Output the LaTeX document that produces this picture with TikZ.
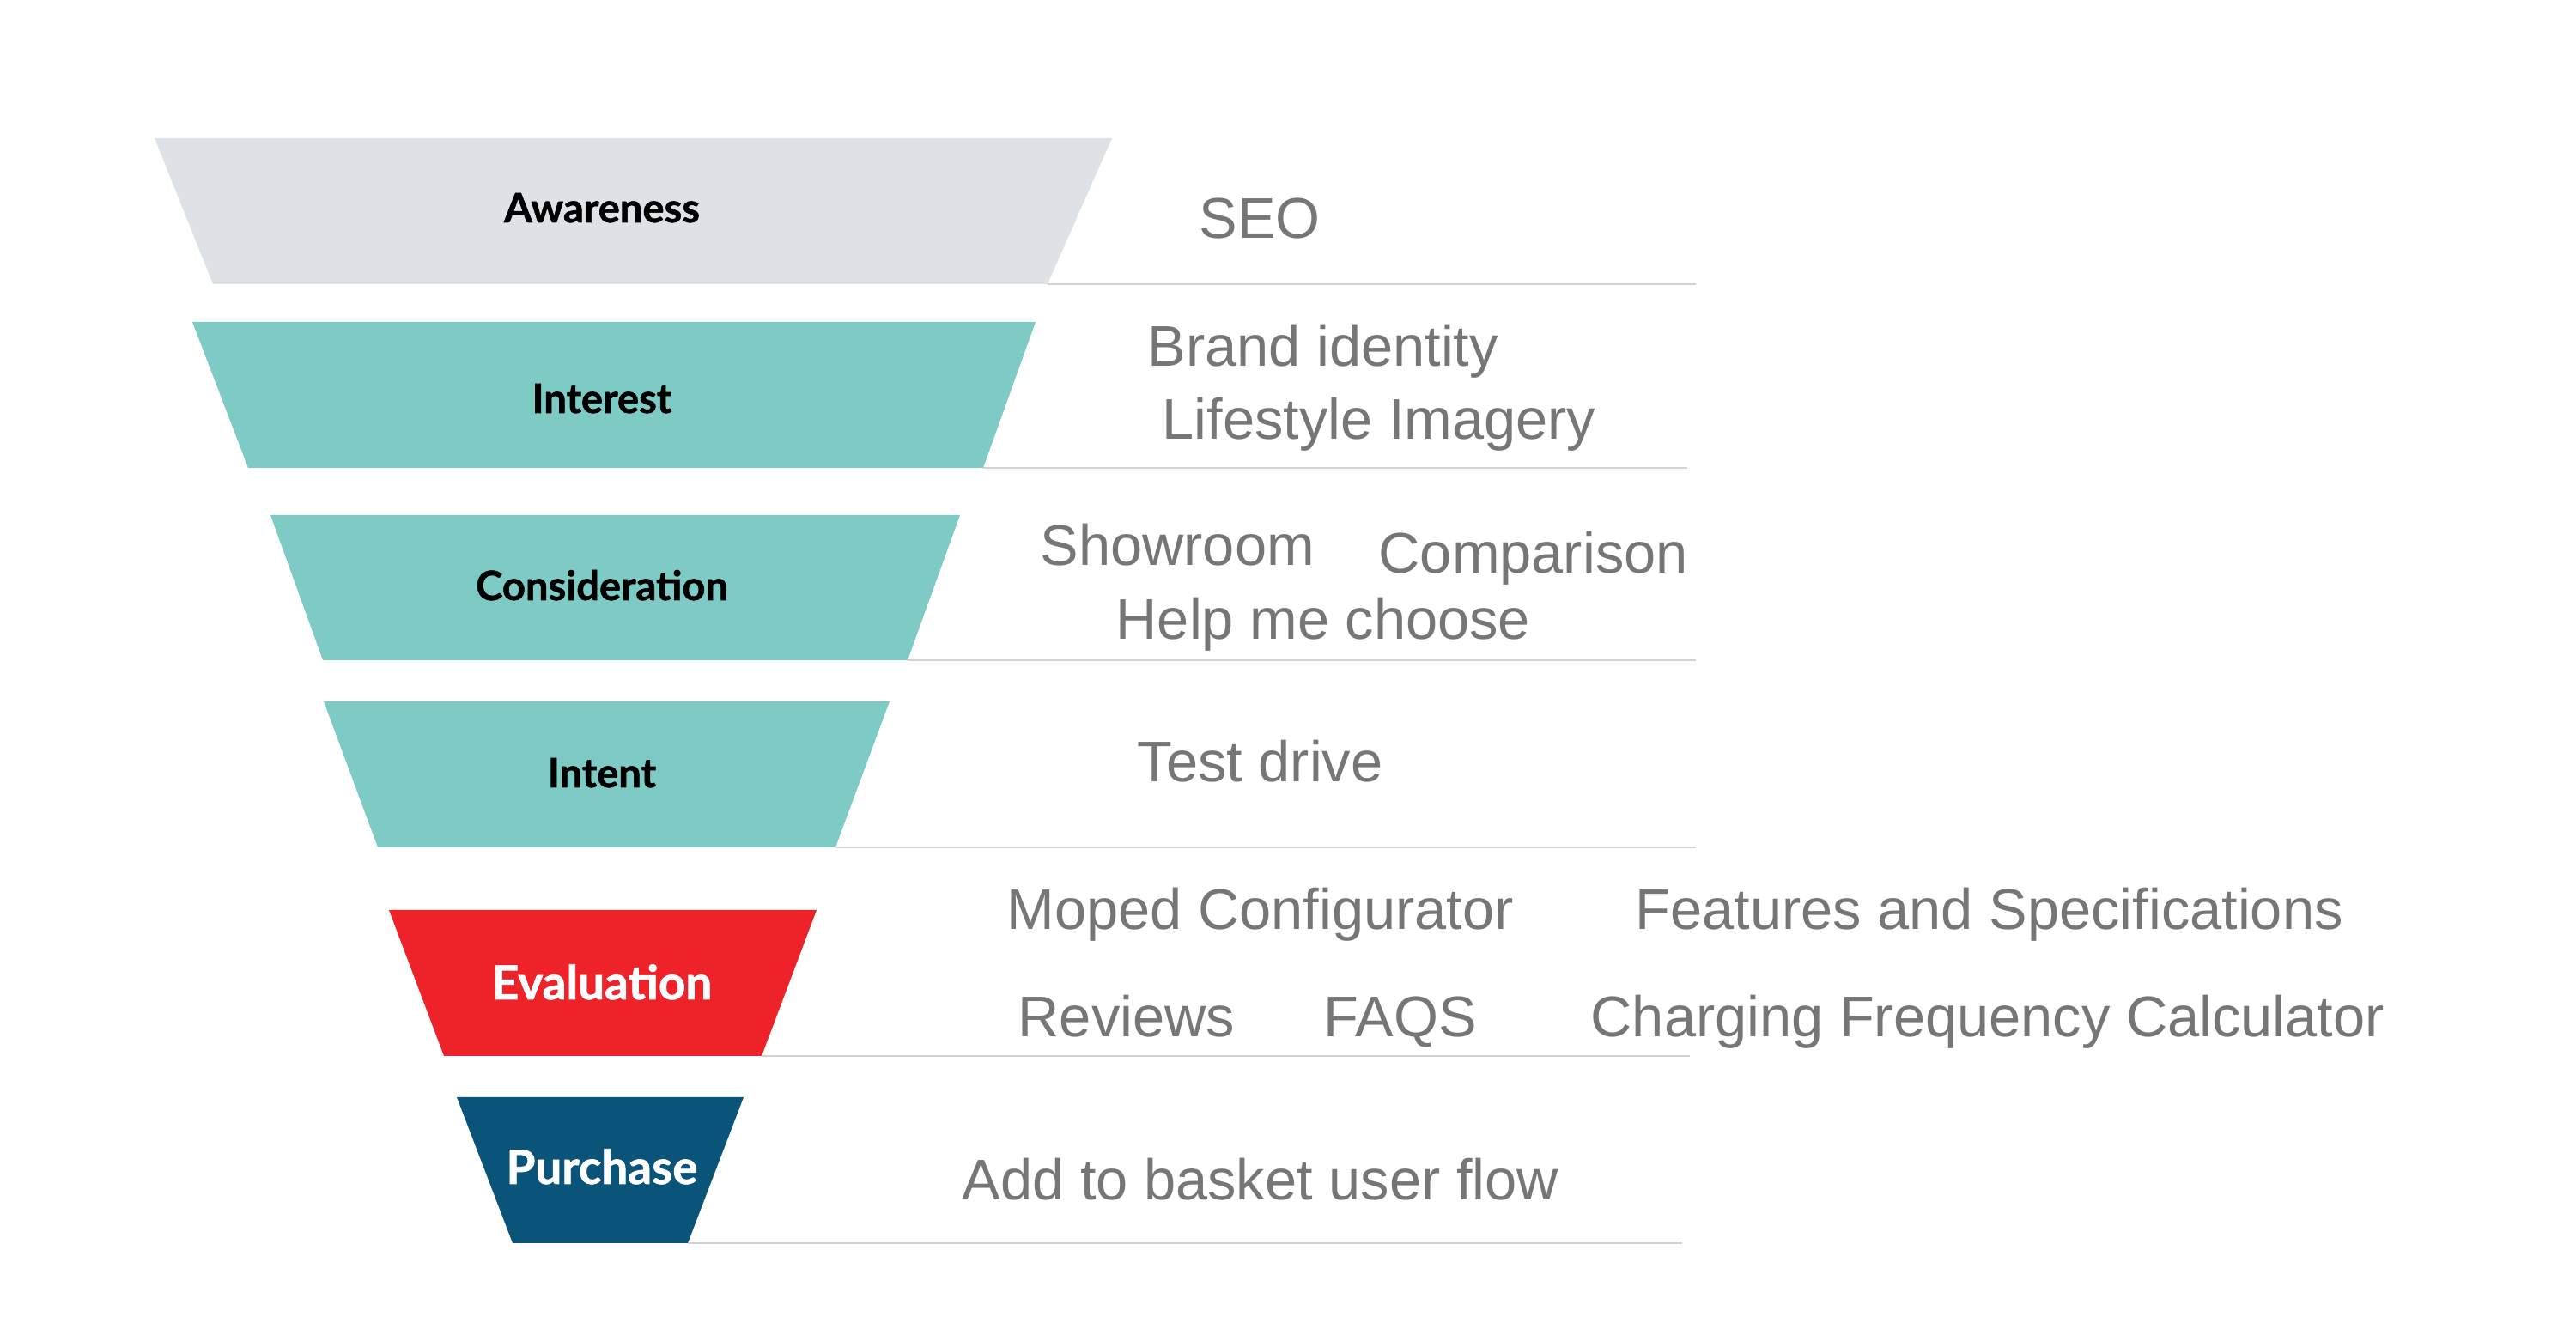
\documentclass[tikz,border=0pt]{standalone}
\usepackage{fontspec}
\setmainfont{Liberation Sans}
\newfontfamily\stagefont{Lato}[BoldFeatures={FakeBold=1.2}]
\definecolor{awaregrey}{HTML}{DFE2E4}
\definecolor{funnelteal}{HTML}{7ECBC5}
\definecolor{evalred}{HTML}{EE2229}
\definecolor{buynavy}{HTML}{0A5479}
\definecolor{itemgrey}{HTML}{767676}
\definecolor{rulegrey}{HTML}{D2D2D2}
\tikzset{
  stage/.style={inner sep=0pt, anchor=base, font=\stagefont\bfseries\fontsize{13.4}{15}\selectfont},
  bigstage/.style={stage, text=white, font=\stagefont\bfseries\fontsize{15.6}{18}\selectfont},
  item/.style={inner sep=0pt, anchor=base west, text=itemgrey, font=\fontsize{19}{22}\selectfont},
  divider/.style={draw=rulegrey, line width=0.8pt}
}
\begin{document}
\begin{tikzpicture}
  \useasboundingbox (0,0) rectangle (30,15.48);

  % Draw the funnel
  \fill[awaregrey]  (1.80,13.87) -- (12.95,13.87) -- (12.20,12.17) -- (2.48,12.17) -- cycle;
  \fill[funnelteal] (2.24,11.73) -- (12.06,11.73) -- (11.45,10.03) -- (2.89,10.03) -- cycle;
  \fill[funnelteal] (3.15,9.48) -- (11.18,9.48) -- (10.57,7.79) -- (3.76,7.79) -- cycle;
  \fill[funnelteal] (3.77,7.31) -- (10.36,7.31) -- (9.73,5.61) -- (4.40,5.61) -- cycle;
  \fill[evalred]    (4.53,4.88) -- (9.51,4.88) -- (8.87,3.18) -- (5.17,3.18) -- cycle;
  \fill[buynavy]    (5.32,2.70) -- (8.66,2.70) -- (8.01,1.00) -- (5.97,1.00) -- cycle;

  % Stage names
  \node[stage] (awareness) at (7.01,12.89) {Awareness};
  \node[stage] (interest) at (7.01,10.67) {Interest};
  \node[stage] (consideration) at (7.01,8.49) {Consideration};
  \node[stage] (intent) at (7.01,6.31) {Intent};
  \node[bigstage] (evaluation) at (7.01,3.84) {Evaluation};
  \node[bigstage] (purchase) at (7.01,1.69) {Purchase};

  % Draw the dividing lines
  \draw[divider] (12.20,12.17) -- (19.75,12.17);
  \draw[divider] (11.45,10.03) -- (19.65,10.03);
  \draw[divider] (10.57,7.79) -- (19.75,7.79);
  \draw[divider] (9.73,5.61) -- (19.75,5.61);
  \draw[divider] (8.87,3.18) -- (19.68,3.18);
  \draw[divider] (8.01,1.00) -- (19.59,1.00);

  % Touch points
  \node[item] (seo) at (13.96,12.70) {SEO};
  \node[item] (brand) at (13.36,11.21) {Brand identity};
  \node[item] (lifestyle) at (13.53,10.36) {Lifestyle Imagery};
  \node[item] (showroom) at (12.11,8.89) {Showroom};
  \node[item] (comparison) at (16.05,8.80) {Comparison};
  \node[item] (helpme) at (12.99,8.03) {Help me choose};
  \node[item] (testdrive) at (13.24,6.37) {Test drive};
  \node[item] (moped) at (11.72,4.65) {Moped Configurator};
  \node[item] (features) at (19.04,4.65) {Features and Specifications};
  \node[item] (reviews) at (11.85,3.40) {Reviews};
  \node[item] (faqs) at (15.41,3.40) {FAQS};
  \node[item] (charging) at (18.52,3.40) {Charging Frequency Calculator};
  \node[item] (basket) at (11.20,1.50) {Add to basket user flow};

\end{tikzpicture}
\end{document}
